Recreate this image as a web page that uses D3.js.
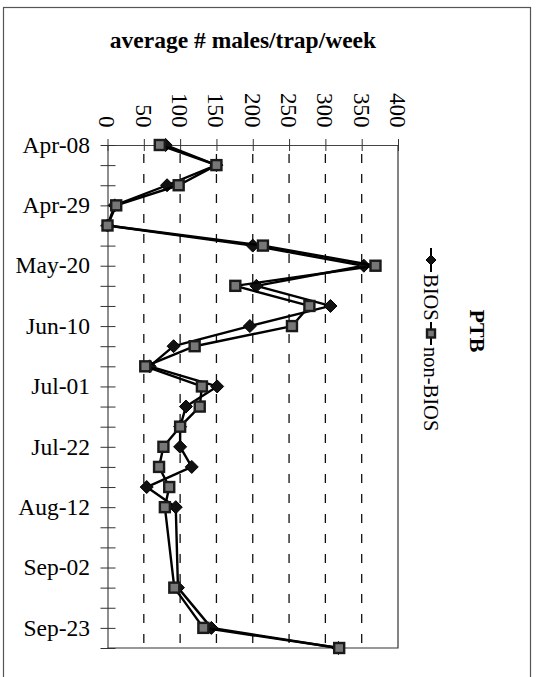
<!DOCTYPE html>
<html>
<head>
<meta charset="utf-8">
<script src="https://cdn.jsdelivr.net/npm/d3@7"></script>
<style>
  html, body { margin: 0; padding: 0; background: #fff; }
  svg { display: block; font-family: "Liberation Serif", "Times New Roman", serif; }
</style>
</head>
<body>
<svg id="chart" width="537" height="677"></svg>
<script>
// Weekly trap counts, PTB site
const weeks = ["Apr-08","Apr-15","Apr-22","Apr-29","May-06","May-13","May-20","May-27",
  "Jun-03","Jun-10","Jun-17","Jun-24","Jul-01","Jul-08","Jul-15","Jul-22","Jul-29",
  "Aug-05","Aug-12","Aug-19","Aug-26","Sep-02","Sep-09","Sep-16","Sep-23","Sep-30"];
const labelledWeeks = ["Apr-08","Apr-29","May-20","Jun-10","Jul-01","Jul-22","Aug-12","Sep-02","Sep-23"];
const bios    = [80,150,82,10,0,200,353,205,307,196,91,58,151,108,100,100,116,54,94,null,null,null,97,null,143,318];
const nonBios = [72,150,98,12,0,214,369,176,278,254,120,52,130,127,100,77,71,85,79,null,null,null,92,null,132,319];
const valueTicks = [0,50,100,150,200,250,300,350,400];
const gridTicks = [50,100,150,200,250,300,350];

const svg = d3.select("#chart");

// outer frame
svg.append("rect")
  .attr("x", 3.5).attr("y", 7.5).attr("width", 527).attr("height", 680)
  .attr("fill", "none").attr("stroke", "#555").attr("stroke-width", 1.2);

const x = d3.scaleLinear().domain([0, 400]).range([107.5, 398]);
const y = d3.scalePoint().domain(weeks).range([145, 648]);

const plot = svg.append("g");

// dashed value gridlines
plot.selectAll("line.grid").data(gridTicks).join("line")
  .attr("class", "grid")
  .attr("x1", d => x(d)).attr("x2", d => x(d))
  .attr("y1", y.range()[0]).attr("y2", y.range()[1])
  .attr("stroke", "#111").attr("stroke-width", 1.3)
  .attr("stroke-dasharray", "9,11").attr("stroke-dashoffset", -9);

// plot border (right and bottom)
plot.append("path")
  .attr("d", `M${x(400)},${y.range()[0]}V${y.range()[1]}H${x(0)}`)
  .attr("fill", "none").attr("stroke", "#333").attr("stroke-width", 1.2);

// value axis along the top
const xAxis = d3.axisTop(x).tickValues(valueTicks).tickSizeInner(6).tickSizeOuter(0).tickFormat("");
const gx = plot.append("g").attr("transform", `translate(0,${y.range()[0]})`).call(xAxis);
gx.select(".domain").attr("stroke", "#444").attr("stroke-width", 1.2);
gx.selectAll(".tick line").attr("stroke", "#333").attr("y1", 6).attr("y2", -6);

// rotated value labels
plot.selectAll("text.vlab").data(valueTicks).join("text")
  .attr("class", "vlab")
  .attr("transform", d => `translate(${x(d)},127.5) rotate(90)`)
  .attr("text-anchor", "end").attr("dy", "0.35em")
  .attr("font-size", 23).attr("fill", "#000")
  .text(d => d);

// category axis on the left
const yAxis = d3.axisLeft(y).tickSizeInner(7).tickSizeOuter(0).tickFormat("");
const gy = plot.append("g").attr("transform", `translate(${x(0)},0)`).call(yAxis);
gy.select(".domain").attr("stroke", "#444").attr("stroke-width", 1.2);
gy.selectAll(".tick line").attr("stroke", "#333").attr("x1", -7).attr("x2", 8);

plot.selectAll("text.clab").data(labelledWeeks).join("text")
  .attr("class", "clab")
  .attr("x", 90).attr("y", d => y(d)).attr("dy", "0.33em")
  .attr("text-anchor", "end").attr("font-size", 23.5).attr("fill", "#000")
  .text(d => d);

// series
function points(vals) {
  return weeks.map((w, i) => ({ w, v: vals[i] })).filter(d => d.v !== null);
}
const line = d3.line().x(d => x(d.v)).y(d => y(d.w));

const series = [
  { name: "BIOS", vals: bios, marker: "diamond" },
  { name: "non-BIOS", vals: nonBios, marker: "square" }
];

const diamond = (g, cx, cy, r) =>
  g.append("path").attr("d", `M${cx},${cy - r}L${cx + r},${cy}L${cx},${cy + r}L${cx - r},${cy}Z`)
    .attr("fill", "#111").attr("stroke", "#000").attr("stroke-width", 1);
const square = (g, cx, cy, s) =>
  g.append("rect").attr("x", cx - s / 2).attr("y", cy - s / 2).attr("width", s).attr("height", s)
    .attr("fill", "#777").attr("stroke", "#1a1a1a").attr("stroke-width", 2.4);

series.forEach(s => {
  const pts = points(s.vals);
  const g = plot.append("g");
  g.append("path").datum(pts).attr("d", line)
    .attr("fill", "none").attr("stroke", "#000").attr("stroke-width", 2.4)
    .attr("stroke-linejoin", "round");
  pts.forEach(d => {
    if (s.marker === "diamond") diamond(g, x(d.v), y(d.w), 6.5);
    else square(g, x(d.v), y(d.w), 10);
  });
});

// title
svg.append("text")
  .attr("x", 243).attr("y", 48).attr("text-anchor", "middle")
  .attr("font-size", 23.5).attr("font-weight", "bold").attr("fill", "#000")
  .text("average # males/trap/week");

// legend (rotated)
const lg = svg.append("g");
lg.append("text")
  .attr("transform", "translate(478,331) rotate(90)")
  .attr("text-anchor", "middle").attr("dy", "0.35em")
  .attr("font-size", 22).attr("font-weight", "bold").text("PTB");

const lx = 431;
// BIOS entry
lg.append("line").attr("x1", lx).attr("x2", lx).attr("y1", 248).attr("y2", 272)
  .attr("stroke", "#000").attr("stroke-width", 2);
diamond(lg, lx, 260, 5);
lg.append("text").attr("transform", `translate(${lx},274) rotate(90)`)
  .attr("dy", "0.35em").attr("font-size", 20.5).text("BIOS");
// non-BIOS entry
lg.append("line").attr("x1", lx).attr("x2", lx).attr("y1", 322).attr("y2", 345)
  .attr("stroke", "#000").attr("stroke-width", 2);
square(lg, lx, 333.5, 8);
lg.append("text").attr("transform", `translate(${lx},347) rotate(90)`)
  .attr("dy", "0.35em").attr("font-size", 20.5).text("non-BIOS");
</script>
</body>
</html>
